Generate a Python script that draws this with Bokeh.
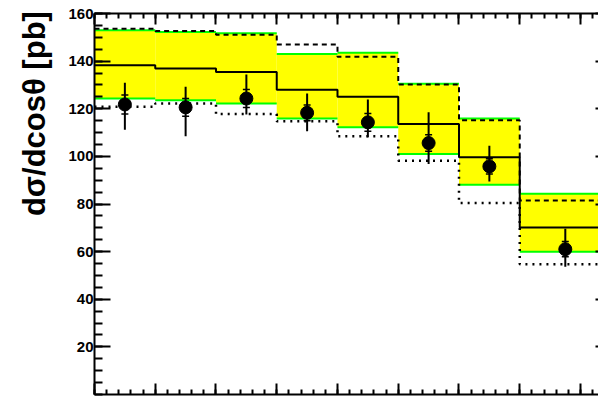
import math
from bokeh.plotting import figure
from bokeh.models import LinearAxis, FixedTicker, Range1d, Title
from bokeh.embed import file_html
from bokeh.resources import INLINE

# ---- data ----
bin_edges = [-0.8, -0.6, -0.4, -0.2, 0.0, 0.2, 0.4, 0.6, 0.9]
band_high = [153.0, 152.2, 151.7, 143.0, 143.5, 130.5, 115.9, 84.3]
band_low = [124.3, 123.6, 122.2, 115.9, 112.2, 101.0, 88.1, 60.0]
nominal = [138.3, 136.9, 135.4, 128.0, 125.0, 113.6, 99.6, 70.1]
variation_up = [153.6, 152.6, 151.1, 147.0, 141.8, 130.2, 115.2, 81.5]
variation_down = [120.8, 122.2, 117.8, 114.7, 108.4, 98.2, 80.4, 54.7]
data_value = [121.8, 120.6, 124.3, 118.3, 114.3, 105.6, 95.8, 61.0]
data_total_high = [130.9, 129.2, 134.4, 126.4, 123.9, 118.5, 104.5, 69.6]
data_total_low = [111.2, 108.4, 117.6, 110.5, 108.0, 96.8, 89.5, 53.7]
data_stat_err = [4.0, 3.7, 3.8, 3.3, 3.7, 3.5, 3.2, 3.2]

y_ticks = [20, 40, 60, 80, 100, 120, 140, 160]
y_minor = [5 * i for i in range(0, 33)]
x_ticks = [-0.8, -0.6, -0.4, -0.2, 0.0, 0.2, 0.4, 0.6, 0.8]
x_minor = [round(-0.8 + 0.04 * i, 4) for i in range(0, 46)]
y_title = "dσ/dcosθ  [pb]"

lefts = bin_edges[:-1]
rights = bin_edges[1:]
centers = [(a + b) / 2 for a, b in zip(lefts, rights)]

p = figure(width=598, height=396, output_backend="svg", toolbar_location=None,
           x_range=Range1d(-0.8, 0.8593), y_range=Range1d(0, 160),
           x_axis_location=None, y_axis_location=None,
           min_border_left=94, min_border_right=0, min_border_top=13, min_border_bottom=2)
p.outline_line_color = None
p.background_fill_color = "white"
p.border_fill_color = "white"
for r in list(p.center):
    p.center.remove(r)

FONT = "Liberation Sans"

def make_axis(ticker, tin, tmin, show_labels, line=True):
    ax = LinearAxis(ticker=ticker,
                    major_tick_in=tin, major_tick_out=0,
                    minor_tick_in=tmin, minor_tick_out=0,
                    major_tick_line_width=2, minor_tick_line_width=2,
                    axis_line_width=2,
                    major_label_standoff=1 if show_labels else 0)
    if not line:
        ax.axis_line_color = None
    if show_labels:
        ax.major_label_text_font = FONT
        ax.major_label_text_font_style = "bold"
        ax.major_label_text_font_size = "15px"
        ax.major_label_text_color = "black"
    else:
        ax.major_label_text_font_size = "0px"
        ax.major_label_text_color = None
    return ax

yt = FixedTicker(ticks=y_ticks, minor_ticks=y_minor)
xt = FixedTicker(ticks=x_ticks, minor_ticks=x_minor)

p.add_layout(make_axis(yt, 16, 8, True), "left")
p.add_layout(make_axis(xt, 11, 5, False), "below")
p.add_layout(make_axis(xt, 11, 5, False), "above")
p.add_layout(make_axis(FixedTicker(ticks=y_ticks, minor_ticks=[]), 3, 0, False, line=False), "right")

# y-axis title, aligned to the top end of the axis (as ROOT does)
p.add_layout(Title(text=y_title, align="right", vertical_align="bottom",
                   offset=-11, standoff=28,
                   text_font=FONT, text_font_style="bold", text_font_size="31px",
                   text_color="black"), "left")

# yellow band with green edges
p.quad(left=lefts, right=rights, bottom=band_low, top=band_high,
       fill_color="#ffff00", line_color=None)
p.segment(x0=lefts, x1=rights, y0=band_high, y1=band_high, line_color="#00ff00", line_width=2)
p.segment(x0=lefts, x1=rights, y0=band_low, y1=band_low, line_color="#00ff00", line_width=2)

# histograms
p.step(x=bin_edges, y=variation_down + [variation_down[-1]], mode="after",
       line_color="black", line_width=2.5, line_dash="2 5")
p.step(x=bin_edges, y=variation_up + [variation_up[-1]], mode="after",
       line_color="black", line_width=2, line_dash="5 4")
p.step(x=bin_edges, y=nominal + [nominal[-1]], mode="after",
       line_color="black", line_width=2)

# data points
p.segment(x0=centers, x1=centers, y0=data_total_low, y1=data_total_high,
          line_color="black", line_width=2)
stat_y = [v + s for v, s in zip(data_value, data_stat_err)] + \
         [v - s for v, s in zip(data_value, data_stat_err)]
p.scatter(x=centers + centers, y=stat_y, marker="dash", size=7,
          line_color="black", line_width=1.5)
p.scatter(x=centers, y=data_value, size=13, fill_color="black", line_color="black")

open("out.html", "w").write(file_html(p, INLINE))
